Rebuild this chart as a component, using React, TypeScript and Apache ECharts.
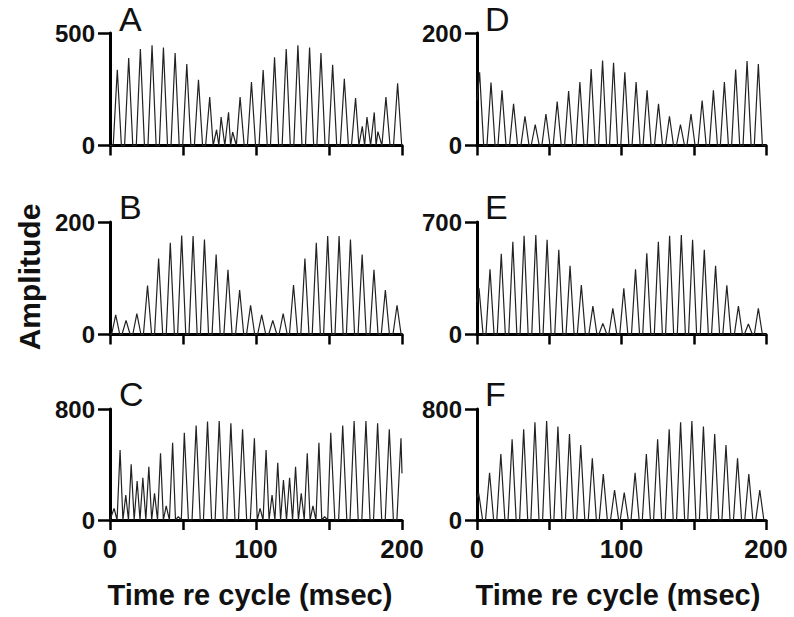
import React, { useEffect, useRef } from 'react';
import * as echarts from 'echarts';

// ---------- data ----------
const xTickValues = [0, 50, 100, 150, 200];
const xLabelValues = [0, 100, 200];
const panelLetters = ['A', 'B', 'C', 'D', 'E', 'F'];
const panelMax = [500, 200, 800, 200, 700, 800];
const xTitle = 'Time re cycle (msec)';
const yTitle = 'Amplitude';

const aTimes = [5.0, 12.8, 20.8, 28.8, 36.6, 44.6, 52.6, 60.6, 68.3, 73.0, 76.1, 81.2, 84.0, 89.1, 96.9, 104.9, 112.7, 120.7, 128.7, 136.7, 144.5, 152.5, 160.5, 168.2, 172.8, 176.0, 181.0, 183.5, 189.0, 197.0];
const aAmps = [337, 389, 429, 445, 436, 411, 362, 292, 215, 70, 126, 148, 60, 215, 282, 335, 392, 429, 445, 436, 411, 359, 297, 211, 85, 126, 147, 62, 215, 277];
const aEdges = [0, 0];

const bTimes = [3.9, 11.0, 18.4, 25.7, 33.3, 41.3, 49.1, 56.9, 64.7, 72.7, 80.8, 88.8, 96.3, 103.9, 111.5, 118.6, 125.7, 133.5, 141.3, 149.1, 156.9, 164.7, 172.7, 180.8, 188.6, 196.6];
const bAmps = [35, 25, 37, 87, 135, 163, 176, 175, 169, 142, 115, 79, 52, 35, 25, 37, 88, 135, 163, 175, 175, 169, 142, 115, 79, 52];
const bEdges = [0, 0];

const cTimes = [2.8, 6.9, 10.8, 14.5, 18.6, 22.5, 26.6, 30.5, 34.6, 38.5, 42.9, 46.8, 50.9, 59.0, 66.8, 74.8, 82.8, 90.8, 98.9, 102.8, 106.9, 111.0, 114.9, 118.8, 123.0, 127.1, 131.0, 135.1, 139.0, 143.1, 147.0, 151.2, 159.4, 167.2, 175.3, 183.3, 191.3, 199.3];
const cAmps = [84, 505, 180, 401, 281, 305, 384, 192, 480, 101, 557, 24, 629, 680, 709, 714, 697, 653, 589, 84, 505, 180, 413, 288, 305, 384, 192, 480, 101, 557, 24, 629, 680, 714, 714, 697, 653, 589];
const cEdges = [0, 336];

const dTimes = [1.8, 9.7, 17.3, 25.3, 33.2, 40.3, 47.7, 55.5, 63.4, 71.2, 79.0, 86.9, 94.5, 102.3, 110.1, 117.7, 125.6, 133.2, 140.8, 148.1, 155.8, 163.6, 171.2, 179.0, 186.9, 194.7];
const dAmps = [130, 112, 98, 74, 52, 37, 56, 78, 97, 113, 136, 151, 147, 130, 113, 98, 74, 52, 37, 56, 80, 98, 113, 135, 150, 145];
const dEdges = [80, 0];

const eTimes = [1.4, 9.0, 16.8, 24.8, 32.6, 40.7, 48.5, 56.6, 64.4, 72.2, 80.2, 87.1, 94.0, 101.6, 109.7, 117.5, 125.5, 133.3, 141.4, 149.2, 157.3, 165.1, 172.9, 180.9, 187.8, 194.7];
const eAmps = [287, 406, 502, 577, 615, 619, 590, 527, 427, 308, 177, 69, 163, 287, 406, 506, 577, 615, 619, 590, 527, 427, 306, 177, 65, 163];
const eEdges = [200, 0];

const fTimes = [1.1, 8.7, 16.5, 24.3, 32.3, 40.1, 48.2, 56.0, 64.0, 71.8, 79.8, 87.4, 95.2, 101.9, 109.4, 117.2, 125.0, 133.0, 140.9, 148.7, 156.7, 164.5, 172.3, 180.3, 188.1, 195.7];
const fAmps = [197, 341, 476, 581, 653, 704, 714, 673, 620, 541, 444, 332, 216, 197, 341, 476, 581, 653, 704, 714, 673, 620, 541, 444, 332, 216];
const fEdges = [160, 0];

// ---------- layout / style ----------
const FONT = 'Liberation Sans, Arial, Helvetica, sans-serif';
const HALF = 2.8; // half base width of each peak (ms)
const colLeft = [110, 477];
const colWidth = [292, 289];
const rowTop = [33, 222, 409];
const rowHeight = [112.5, 112.5, 111];

function wave(times: number[], amps: number[], edges: number[]) {
  const pts: number[][] = [[0, edges[0]]];
  for (let i = 0; i < times.length; i++) {
    const t = times[i];
    if (i === 0) {
      if (t - HALF > 0) pts.push([t - HALF, 0]);
    } else if (t - times[i - 1] > 2 * HALF) {
      pts.push([t - HALF, 0]);
    }
    pts.push([t, amps[i]]);
    if (i === times.length - 1) {
      if (t + HALF < 200) pts.push([t + HALF, 0]);
    } else {
      const nx = times[i + 1];
      if (nx - t > 2 * HALF) pts.push([t + HALF, 0]);
      else pts.push([(t + nx) / 2, 0]);
    }
  }
  pts.push([200, edges[1]]);
  return pts;
}

const panels = [
  { times: aTimes, amps: aAmps, edges: aEdges },
  { times: bTimes, amps: bAmps, edges: bEdges },
  { times: cTimes, amps: cAmps, edges: cEdges },
  { times: dTimes, amps: dAmps, edges: dEdges },
  { times: eTimes, amps: eAmps, edges: eEdges },
  { times: fTimes, amps: fAmps, edges: fEdges },
];

export default function App() {
  const ref = useRef<HTMLDivElement>(null);
  useEffect(() => {
    if (!ref.current) return;
    const chart = echarts.init(ref.current, undefined, { renderer: 'svg' });
    const grid: any[] = [];
    const xAxis: any[] = [];
    const yAxis: any[] = [];
    const series: any[] = [];
    const graphic: any[] = [];
    panels.forEach((p, i) => {
      const col = Math.floor(i / 3);
      const row = i % 3;
      grid.push({
        left: colLeft[col],
        top: rowTop[row],
        width: colWidth[col],
        height: rowHeight[row],
        containLabel: false,
      });
      xAxis.push({
        type: 'value',
        gridIndex: i,
        min: 0,
        max: 200,
        interval: 50,
        axisLine: { show: true, onZero: false, lineStyle: { color: '#000', width: 3 } },
        axisTick: { show: true, length: 10, lineStyle: { color: '#000', width: 2.5 } },
        splitLine: { show: false },
        axisLabel: {
          show: row === 2,
          margin: 16,
          fontSize: 26,
          fontWeight: 'bold',
          fontFamily: FONT,
          color: '#111',
          formatter: (v: number) => (xLabelValues.includes(v) ? String(v) : ''),
        },
      });
      yAxis.push({
        type: 'value',
        gridIndex: i,
        min: 0,
        max: panelMax[i],
        interval: panelMax[i],
        axisLine: { show: true, lineStyle: { color: '#000', width: 3 } },
        axisTick: { show: true, length: 12, lineStyle: { color: '#000', width: 2.5 } },
        splitLine: { show: false },
        axisLabel: {
          margin: 15,
          fontSize: 24,
          fontWeight: 'bold',
          fontFamily: FONT,
          color: '#111',
        },
      });
      series.push({
        type: 'line',
        xAxisIndex: i,
        yAxisIndex: i,
        data: wave(p.times, p.amps, p.edges),
        showSymbol: false,
        symbol: 'none',
        lineStyle: { color: '#222', width: 1.2 },
        z: 1,
      });
      graphic.push({
        type: 'text',
        left: col === 0 ? 119 : 485,
        top: Math.max(2, rowTop[row] - 32),
        style: {
          text: panelLetters[i],
          font: `normal 34px ${FONT}`,
          fill: '#111',
        },
      });
    });
    graphic.push({
      type: 'text',
      x: 250,
      y: 595,
      style: {
        text: xTitle,
        font: `bold 29px ${FONT}`,
        fill: '#111',
        align: 'center',
        verticalAlign: 'middle',
      },
    });
    graphic.push({
      type: 'text',
      x: 618,
      y: 595,
      style: {
        text: xTitle,
        font: `bold 29px ${FONT}`,
        fill: '#111',
        align: 'center',
        verticalAlign: 'middle',
      },
    });
    graphic.push({
      type: 'text',
      x: 29,
      y: 277,
      rotation: Math.PI / 2,
      style: {
        text: yTitle,
        font: `bold 30px ${FONT}`,
        fill: '#111',
        align: 'center',
        verticalAlign: 'middle',
      },
    });
    chart.setOption({
      animation: false,
      backgroundColor: '#fff',
      grid,
      xAxis,
      yAxis,
      series,
      graphic,
    });
    return () => chart.dispose();
  }, []);
  return (
    <div
      ref={ref}
      style={{ position: 'fixed', left: 0, top: 0, width: 794, height: 617 }}
    />
  );
}
